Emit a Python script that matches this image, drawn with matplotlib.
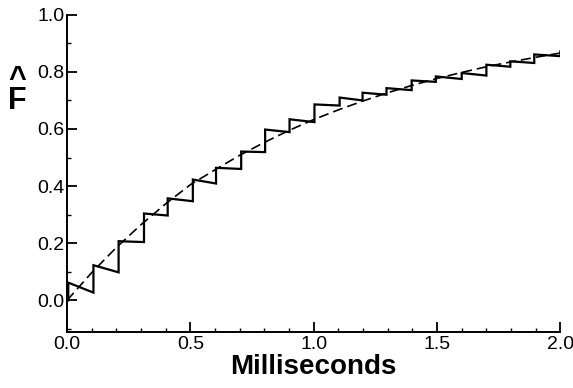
import matplotlib
matplotlib.use("Agg")
import matplotlib.pyplot as plt
from matplotlib.ticker import MultipleLocator, FormatStrFormatter

# Step-like empirical estimate: jump times, value right after jump, value right before next jump
jump_times = [0.005, 0.107, 0.209, 0.312, 0.408, 0.510, 0.604, 0.706, 0.803, 0.902,
              1.003, 1.105, 1.198, 1.295, 1.397, 1.495, 1.600, 1.700, 1.797, 1.894]
top_values = [0.062, 0.123, 0.207, 0.304, 0.357, 0.423, 0.464, 0.521, 0.598, 0.634,
              0.686, 0.710, 0.727, 0.743, 0.770, 0.784, 0.796, 0.825, 0.837, 0.861]
bottom_values = [0.027, 0.098, 0.204, 0.297, 0.347, 0.409, 0.460, 0.519, 0.589, 0.624,
                 0.682, 0.700, 0.720, 0.736, 0.765, 0.775, 0.787, 0.818, 0.831, 0.855]
end_time = 2.0
end_value = 0.872

# Smooth fitted curve (dashed), read at 0.1 ms steps
fit_t = [0.0, 0.1, 0.2, 0.3, 0.4, 0.5, 0.6, 0.7, 0.8, 0.9, 1.0,
         1.1, 1.2, 1.3, 1.4, 1.5, 1.6, 1.7, 1.8, 1.9, 2.0]
fit_F = [0.0, 0.097, 0.185, 0.265, 0.338, 0.405, 0.457, 0.508, 0.553, 0.595, 0.633,
         0.667, 0.698, 0.727, 0.753, 0.777, 0.798, 0.818, 0.835, 0.851, 0.866]

x_ticks = [0.0, 0.5, 1.0, 1.5, 2.0]
y_ticks = [0.0, 0.2, 0.4, 0.6, 0.8, 1.0]

plt.rcParams['font.family'] = ['Liberation Sans', 'DejaVu Sans']

fig = plt.figure(figsize=(5.73, 3.88), dpi=100)
ax = fig.add_axes([0.117, 0.145, 0.861, 0.817])

# build sawtooth path
xs = [jump_times[0]]
ys = [0.0]
for i, t in enumerate(jump_times):
    t_next = jump_times[i + 1] if i + 1 < len(jump_times) else end_time
    xs += [t, t_next]
    ys += [top_values[i], bottom_values[i]]
xs.append(end_time)
ys.append(end_value)

ax.plot(xs, ys, color='black', lw=1.6, solid_joinstyle='miter')
ax.plot(fit_t, fit_F, color='black', lw=1.2, dashes=(6, 3))

ax.set_xlim(0.0, 2.0)
ax.set_ylim(-0.11, 1.0)
ax.set_xticks(x_ticks)
ax.set_yticks(y_ticks)
ax.xaxis.set_minor_locator(MultipleLocator(0.1))
ax.yaxis.set_minor_locator(MultipleLocator(0.1))
ax.xaxis.set_major_formatter(FormatStrFormatter('%.1f'))
ax.yaxis.set_major_formatter(FormatStrFormatter('%.1f'))

for s in ['top', 'right']:
    ax.spines[s].set_visible(False)
for s in ['left', 'bottom']:
    ax.spines[s].set_linewidth(1.4)

ax.tick_params(which='major', direction='in', length=7, width=1.3, labelsize=14, pad=3)
ax.tick_params(which='minor', direction='in', length=3, width=1.0)
ax.tick_params(axis='y', which='major', pad=2)

ax.set_xlabel('Milliseconds', fontsize=20, fontweight='bold', labelpad=1)
ax.set_ylabel('^\nF', fontsize=22, fontweight='bold', rotation=0, va='center', ha='center',
              multialignment='center', linespacing=0.62)
ax.yaxis.set_label_coords(-0.101, 0.762)

fig.savefig('out.png', dpi=100)
